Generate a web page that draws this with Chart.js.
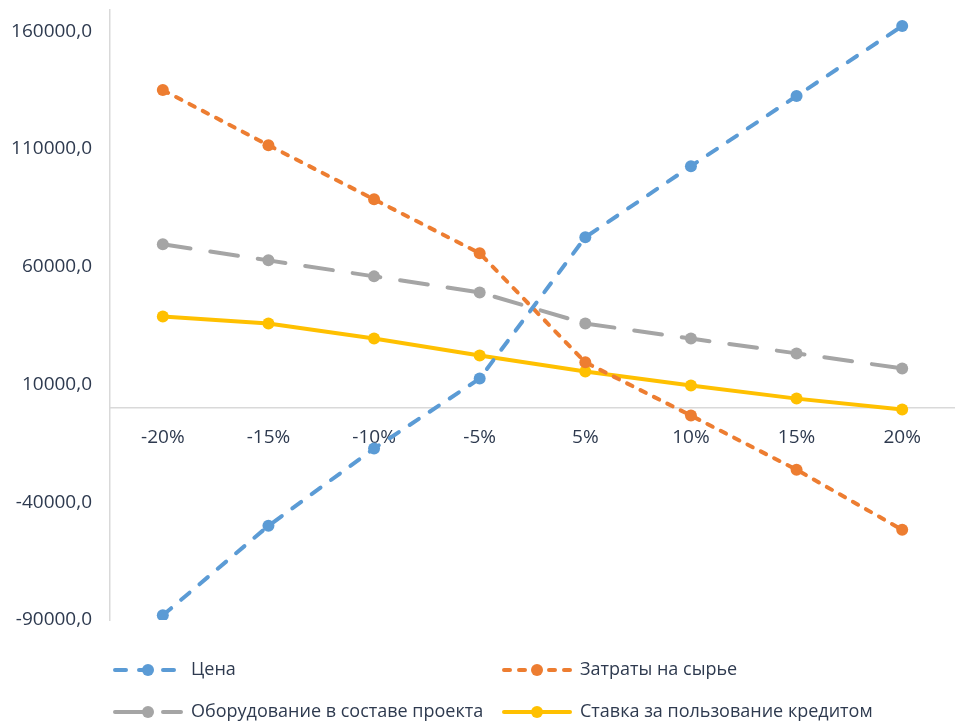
<!DOCTYPE html>
<html>
<head>
<meta charset="utf-8">
<script src="https://cdn.jsdelivr.net/npm/chart.js@4"></script>
<style>
  html, body { margin: 0; padding: 0; background: #ffffff; }
  #wrap { width: 955px; height: 722px; position: relative; }
</style>
</head>
<body>
<div id="wrap"><canvas id="chart" width="955" height="722"></canvas></div>
<script>
// ───────── DATA ─────────
const categories = ["-20%", "-15%", "-10%", "-5%", "5%", "10%", "15%", "20%"];
const priceValues     = [-88000, -50000, -17200, 12500, 72500, 102700, 132500, 162200];
const rawCostValues   = [135000, 111600, 88600, 65700, 19400, -3200, -26200, -51700];
const equipmentValues = [69500, 62700, 55900, 49100, 35900, 29500, 23200, 16800];
const creditValues    = [38900, 35900, 29500, 22300, 15500, 9600, 4000, -600];
const yTickValues     = [-90000, -40000, 10000, 60000, 110000, 160000];

const TEXT_COLOR = "#2e3a4f";
const AXIS_COLOR = "#d9d9d9";
const TICK_FONT = { family: "Open Sans", size: 19 };
const LEGEND_FONT = { family: "Open Sans", size: 18 };

// ───────── LEGEND (2 x 2 grid, drawn on canvas) ─────────
const gridLegend = {
    id: "gridLegend",
    afterDraw(chart) {
        const ctx = chart.ctx;
        const cols = [113, 502];
        const rows = [670, 712];
        chart.data.datasets.forEach((ds, i) => {
            const x = cols[i % 2];
            const y = rows[Math.floor(i / 2)];
            ctx.save();
            ctx.strokeStyle = ds.borderColor;
            ctx.lineWidth = ds.borderWidth;
            ctx.lineCap = "round";
            ctx.setLineDash(ds.borderDash || []);
            ctx.beginPath();
            ctx.moveTo(x + 2, y);
            ctx.lineTo(x + 68, y);
            ctx.stroke();
            ctx.setLineDash([]);
            ctx.fillStyle = ds.backgroundColor;
            ctx.beginPath();
            ctx.arc(x + 35, y, 6, 0, Math.PI * 2);
            ctx.fill();
            ctx.fillStyle = TEXT_COLOR;
            ctx.font = LEGEND_FONT.size + "px '" + LEGEND_FONT.family + "'";
            ctx.textBaseline = "middle";
            ctx.fillText(ds.label, x + 78, y);
            ctx.restore();
        });
    }
};

function series(label, data, color, dash) {
    return {
        label: label,
        data: data,
        borderColor: color,
        backgroundColor: color,
        borderWidth: 4,
        borderDash: dash,
        borderCapStyle: "round",
        pointRadius: 6,
        pointHoverRadius: 6,
        pointBorderWidth: 0,
        pointBackgroundColor: color,
        tension: 0
    };
}

new Chart(document.getElementById("chart").getContext("2d"), {
    type: "line",
    data: {
        labels: categories,
        datasets: [
            series("Цена", priceValues, "#5b9bd5", [11, 13]),
            series("Затраты на сырье", rawCostValues, "#ed7d31", [6, 9]),
            series("Оборудование в составе проекта", equipmentValues, "#a5a5a5", [28, 20]),
            series("Ставка за пользование кредитом", creditValues, "#ffc000", [])
        ]
    },
    options: {
        responsive: false,
        animation: false,
        layout: { autoPadding: false, padding: { top: 10, right: -3, bottom: 102, left: 0 } },
        scales: {
            x: {
                type: "category",
                position: { y: 0 },
                offset: true,
                grid: { display: false, drawTicks: false },
                border: { display: true, color: AXIS_COLOR, width: 1.5 },
                afterFit: (axis) => { axis.paddingLeft = 0; axis.paddingRight = 0; },
                ticks: { color: TEXT_COLOR, font: TICK_FONT, padding: 18, maxRotation: 0 }
            },
            y: {
                min: -90000,
                max: 169000,
                grid: { display: false, drawTicks: false },
                border: { display: true, color: AXIS_COLOR, width: 1.5 },
                afterBuildTicks: (axis) => { axis.ticks = yTickValues.map(v => ({ value: v })); },
                afterFit: (axis) => { axis.width = 110; axis.paddingTop = 0; axis.paddingBottom = 0; },
                ticks: {
                    color: TEXT_COLOR,
                    font: TICK_FONT,
                    padding: 18,
                    callback: (v) => v.toFixed(1).replace(".", ",")
                }
            }
        },
        plugins: {
            legend: { display: false },
            tooltip: { enabled: false }
        }
    },
    plugins: [gridLegend]
});
</script>
</body>
</html>
